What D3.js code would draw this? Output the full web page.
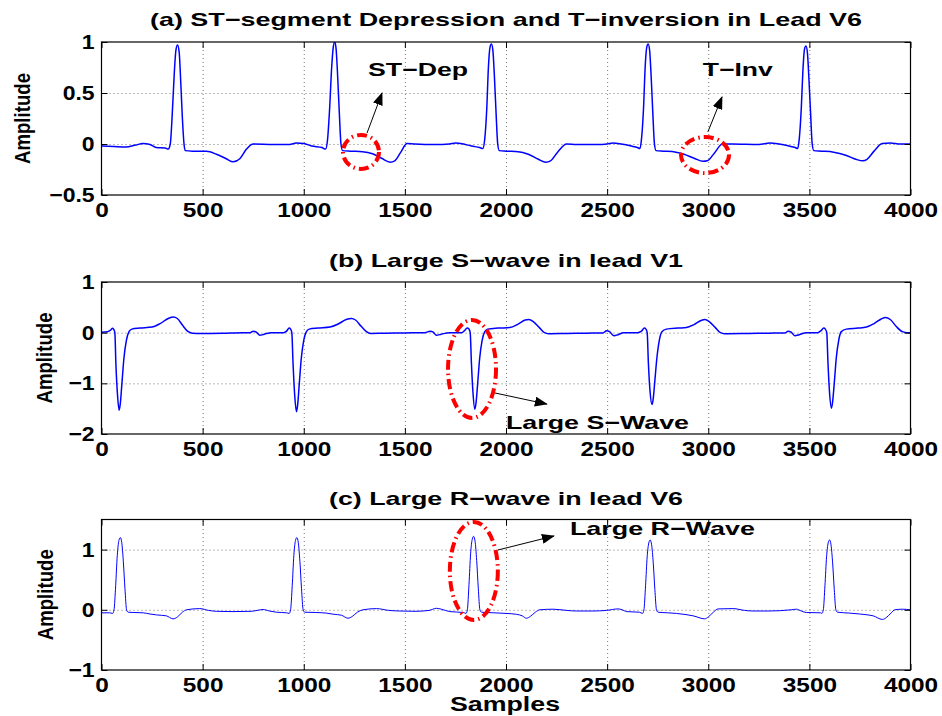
<!DOCTYPE html>
<html>
<head>
<meta charset="utf-8">
<script src="https://cdn.jsdelivr.net/npm/d3@7"></script>
<style>
  body { margin: 0; background: #fff; }
  text { font-family: "Liberation Sans", Arial, sans-serif; font-weight: bold; }
</style>
</head>
<body>
<div id="output"></div>
<script>
// x ticks shared by the three panels
var sampleTicks = [0, 500, 1000, 1500, 2000, 2500, 3000, 3500, 4000];

// (a) lead V6 with ST depression / T inversion: [sample, amplitude]
var stDepV6 = [
  [0,-0.02],[60,-0.025],[120,-0.03],[170,-0.01],[205,0.005],[240,-0.005],[270,-0.035],[315,-0.04],[330,-0.05],
  [340,0.0],[350,0.3],[360,0.7],[368,0.92],[376,0.97],[384,0.9],[392,0.6],[400,0.25],[408,0.0],[414,-0.065],
  [450,-0.07],[519,-0.072],[568,-0.1],[617,-0.145],[651,-0.175],[684,-0.145],[717,-0.05],[750,0.0],
  [850,-0.005],[930,-0.005],[963,0.01],[1000,0.005],[1040,-0.02],[1090,-0.035],[1108,-0.05],
  [1118,0.05],[1128,0.35],[1138,0.75],[1146,0.95],[1153,1.0],[1160,0.93],[1168,0.65],[1176,0.3],[1184,0.0],[1192,-0.065],
  [1230,-0.07],[1290,-0.075],[1340,-0.095],[1385,-0.14],[1428,-0.178],[1450,-0.165],[1480,-0.08],[1510,0.005],
  [1550,0.0],[1650,-0.005],[1720,0.0],[1750,0.01],[1790,0.0],[1830,-0.02],[1870,-0.035],[1885,-0.045],
  [1895,0.05],[1905,0.35],[1913,0.75],[1921,0.95],[1928,0.98],[1935,0.92],[1943,0.65],[1951,0.3],[1959,0.0],[1967,-0.065],
  [2000,-0.07],[2060,-0.075],[2110,-0.1],[2160,-0.15],[2197,-0.178],[2220,-0.165],[2255,-0.08],[2300,0.0],
  [2350,-0.005],[2450,-0.005],[2500,0.0],[2528,0.01],[2570,0.0],[2620,-0.02],[2650,-0.035],[2662,-0.045],
  [2670,0.05],[2680,0.35],[2688,0.75],[2696,0.95],[2703,0.98],[2710,0.92],[2718,0.65],[2726,0.3],[2734,0.0],[2742,-0.065],
  [2780,-0.07],[2840,-0.08],[2880,-0.1],[2930,-0.14],[2975,-0.17],[2995,-0.165],[3030,-0.09],[3070,0.0],
  [3120,0.0],[3250,-0.005],[3305,0.01],[3350,0.0],[3400,-0.02],[3430,-0.035],[3442,-0.045],
  [3450,0.05],[3460,0.35],[3468,0.72],[3476,0.93],[3483,0.96],[3490,0.9],[3498,0.63],[3506,0.3],[3514,0.0],[3522,-0.065],
  [3560,-0.07],[3620,-0.08],[3680,-0.11],[3730,-0.15],[3765,-0.165],[3785,-0.15],[3820,-0.07],[3860,0.005],
  [3900,0.01],[3950,0.0],[4000,0.0]
];

// (b) lead V1 with large S wave
var sWaveV1 = [
  [0,0.01],[30,0.02],[45,0.05],[55,0.085],[61,0.06],[66,0.0],[71,-0.6],[79,-1.22],[87,-1.53],[93,-1.4],[101,-1.0],
  [111,-0.5],[123,-0.15],[136,0.02],[150,0.07],[190,0.09],[250,0.11],[290,0.18],[330,0.28],[355,0.31],[375,0.28],
  [400,0.15],[425,0.03],[450,-0.01],[490,-0.015],[600,-0.01],[700,0.0],[735,0.0],[750,0.03],[765,0.01],[783,-0.05],
  [805,-0.03],[840,0.0],[900,0.0],[915,0.03],[928,0.09],[935,0.07],[941,0.0],[947,-0.6],[955,-1.22],[964,-1.56],
  [970,-1.42],[978,-1.0],[988,-0.5],[1000,-0.15],[1013,0.02],[1027,0.07],[1070,0.09],[1130,0.11],[1170,0.17],
  [1210,0.26],[1236,0.28],[1256,0.25],[1285,0.12],[1310,0.02],[1330,-0.015],[1400,-0.01],[1500,-0.005],[1600,0.0],
  [1625,0.03],[1640,0.01],[1656,-0.05],[1680,-0.03],[1720,0.0],[1780,0.0],[1795,0.04],[1808,0.09],[1817,0.07],
  [1823,0.0],[1829,-0.6],[1837,-1.2],[1846,-1.51],[1852,-1.38],[1860,-1.0],[1870,-0.5],[1882,-0.15],[1895,0.02],
  [1909,0.07],[1960,0.09],[2019,0.1],[2060,0.17],[2095,0.25],[2112,0.26],[2135,0.22],[2165,0.1],[2190,0.0],
  [2210,-0.02],[2300,-0.015],[2400,-0.01],[2480,-0.005],[2497,0.04],[2512,0.02],[2533,-0.06],[2555,-0.04],
  [2580,0.0],[2650,0.0],[2670,0.03],[2684,0.09],[2692,0.07],[2698,0.0],[2704,-0.6],[2712,-1.15],[2722,-1.42],
  [2728,-1.3],[2736,-0.95],[2746,-0.5],[2758,-0.15],[2771,0.02],[2793,0.07],[2850,0.09],[2892,0.1],[2930,0.16],
  [2965,0.24],[2983,0.26],[3005,0.22],[3035,0.1],[3060,0.0],[3080,-0.02],[3200,-0.015],[3300,-0.01],[3380,-0.005],
  [3395,0.03],[3410,0.01],[3428,-0.06],[3450,-0.04],[3485,0.0],[3540,0.0],[3558,0.04],[3571,0.09],[3579,0.07],
  [3586,0.0],[3592,-0.6],[3600,-1.2],[3609,-1.49],[3615,-1.36],[3623,-1.0],[3633,-0.5],[3645,-0.15],[3658,0.02],
  [3683,0.07],[3740,0.09],[3782,0.11],[3820,0.18],[3855,0.27],[3877,0.3],[3900,0.26],[3930,0.12],[3960,0.02],
  [3985,0.0],[4000,0.0]
];

// (c) lead V6 with large R wave
var rWaveV6 = [
  [0,-0.05],[40,-0.05],[55,-0.06],[62,0.0],[70,0.4],[78,0.9],[86,1.15],[93,1.2],[100,1.12],[108,0.8],[116,0.35],
  [124,0.0],[132,-0.04],[160,-0.045],[206,-0.05],[240,-0.07],[272,-0.085],[320,-0.1],[354,-0.15],[375,-0.12],
  [400,-0.04],[420,0.0],[486,0.02],[530,-0.01],[568,-0.025],[650,-0.03],[740,-0.025],[770,-0.01],[799,0.005],
  [830,-0.02],[865,-0.04],[915,-0.05],[928,-0.06],[935,0.0],[943,0.4],[951,0.9],[959,1.15],[966,1.2],[973,1.12],
  [981,0.8],[989,0.35],[997,0.0],[1005,-0.04],[1060,-0.045],[1112,-0.055],[1150,-0.075],[1186,-0.09],[1219,-0.14],
  [1240,-0.11],[1265,-0.04],[1293,0.0],[1360,0.02],[1420,-0.01],[1475,-0.02],[1550,-0.025],[1620,-0.01],
  [1656,0.025],[1680,0.01],[1722,-0.03],[1790,-0.045],[1802,-0.06],[1809,0.0],[1817,0.42],[1825,0.93],[1833,1.17],
  [1840,1.22],[1847,1.14],[1855,0.82],[1863,0.36],[1871,0.0],[1879,-0.04],[1940,-0.05],[2000,-0.06],[2052,-0.075],
  [2080,-0.1],[2101,-0.14],[2120,-0.11],[2145,-0.04],[2167,0.0],[2233,0.01],[2300,-0.01],[2348,-0.02],[2430,-0.02],
  [2497,-0.01],[2554,0.015],[2575,0.0],[2596,-0.03],[2660,-0.04],[2675,-0.06],[2682,0.0],[2690,0.4],[2698,0.88],
  [2706,1.11],[2713,1.16],[2720,1.08],[2728,0.78],[2736,0.34],[2744,0.0],[2752,-0.04],[2800,-0.05],[2843,-0.06],
  [2890,-0.08],[2925,-0.1],[2983,-0.15],[3000,-0.12],[3025,-0.04],[3049,0.015],[3123,0.02],[3180,-0.01],
  [3222,-0.02],[3300,-0.02],[3354,-0.015],[3410,0.0],[3436,0.01],[3460,-0.02],[3485,-0.045],[3555,-0.05],
  [3562,-0.06],[3569,0.0],[3577,0.4],[3585,0.88],[3593,1.11],[3600,1.16],[3607,1.08],[3615,0.78],[3623,0.34],
  [3631,0.0],[3639,-0.04],[3700,-0.055],[3749,-0.07],[3790,-0.085],[3815,-0.1],[3861,-0.16],[3880,-0.13],
  [3905,-0.05],[3922,0.0],[3960,0.01],[4000,0.0]
];

var titles = [
  '(a) ST\u2212segment Depression and T\u2212inversion in Lead V6',
  '(b) Large S\u2212wave in lead V1',
  '(c) Large R\u2212wave in lead V6'
];

var width = 942;
var height = 716;
var left = 101.5;
var right = 910.5;

var svg = d3.select('#output')
  .append('svg')
  .attr('width', width)
  .attr('height', height);

var defs = svg.append('defs');
defs.append('marker')
  .attr('id', 'arrow')
  .attr('markerUnits', 'userSpaceOnUse')
  .attr('markerWidth', 14).attr('markerHeight', 10)
  .attr('refX', 12).attr('refY', 5)
  .attr('orient', 'auto')
  .append('path')
  .attr('d', 'M0,0 L13,5 L0,10 Z')
  .attr('fill', '#000');

var xScale = d3.scaleLinear().domain([0, 4000]).range([left, right]);

var panels = [
  { data: stDepV6, top: 42, bottom: 195, domain: [-0.5, 1], ticks: [-0.5, 0, 0.5, 1],
    title: titles[0], titleY: 26, titleLen: 712, labelX: 30, lw: 1.5 },
  { data: sWaveV1, top: 282, bottom: 434, domain: [-2, 1], ticks: [-2, -1, 0, 1],
    title: titles[1], titleY: 267, titleLen: 354, labelX: 52, lw: 1.5 },
  { data: rWaveV6, top: 519.5, bottom: 670, domain: [-1, 1.5], ticks: [-1, 0, 1],
    title: titles[2], titleY: 505, titleLen: 354, labelX: 53, lw: 1 }
];

panels.forEach(function(p, i) {
  var yScale = d3.scaleLinear().domain(p.domain).range([p.bottom, p.top]);
  p.y = yScale;
  var g = svg.append('g');
  var h = p.bottom - p.top;
  var w = right - left;

  // Grid
  g.append('g')
    .attr('transform', `translate(0, ${p.bottom})`)
    .call(d3.axisBottom(xScale).tickValues(sampleTicks.slice(1, -1)).tickSize(-h).tickFormat(''))
    .call(function(a) { a.select('.domain').remove(); })
    .selectAll('line')
    .attr('stroke', '#555').attr('stroke-width', 0.8).attr('stroke-dasharray', '1,3');
  g.append('g')
    .attr('transform', `translate(${left}, 0)`)
    .call(d3.axisLeft(yScale).tickValues(p.ticks.filter(function(t) { return t > p.domain[0] && t < p.domain[1]; })).tickSize(-w).tickFormat(''))
    .call(function(a) { a.select('.domain').remove(); })
    .selectAll('line')
    .attr('stroke', '#555').attr('stroke-width', 0.8).attr('stroke-dasharray', '1,3');

  // Signal
  var clipId = 'clip' + i;
  defs.append('clipPath').attr('id', clipId)
    .append('rect').attr('x', left).attr('y', p.top).attr('width', w).attr('height', h);

  var line = d3.line()
    .x(function(d) { return xScale(d[0]); })
    .y(function(d) { return yScale(d[1]); })
    .curve(d3.curveMonotoneX);

  g.append('path')
    .datum(p.data)
    .attr('clip-path', `url(#${clipId})`)
    .attr('fill', 'none')
    .attr('stroke', '#0000ff')
    .attr('stroke-width', p.lw)
    .attr('stroke-linejoin', 'round')
    .attr('d', line);

  // Axes (ticks inside, like matlab)
  var xAx = g.append('g')
    .attr('transform', `translate(0, ${p.bottom})`)
    .call(d3.axisBottom(xScale).tickValues(sampleTicks).tickSize(-6).tickPadding(8).tickFormat(d3.format('')));
  var xTop = g.append('g')
    .attr('transform', `translate(0, ${p.top})`)
    .call(d3.axisTop(xScale).tickValues(sampleTicks).tickSize(-6).tickFormat(''));
  var yAx = g.append('g')
    .attr('transform', `translate(${left}, 0)`)
    .call(d3.axisLeft(yScale).tickValues(p.ticks).tickSize(-6).tickPadding(6).tickFormat(d3.format('')));
  var yRight = g.append('g')
    .attr('transform', `translate(${right}, 0)`)
    .call(d3.axisRight(yScale).tickValues(p.ticks).tickSize(-6).tickFormat(''));

  [xAx, xTop, yAx, yRight].forEach(function(a) {
    a.select('.domain').remove();
    a.selectAll('line').attr('stroke', '#000');
  });
  xAx.selectAll('text')
    .attr('font-size', 20).attr('fill', '#000')
    .attr('transform', 'scale(1.22,1)');
  yAx.selectAll('text')
    .attr('font-size', 20).attr('fill', '#000')
    .attr('transform', 'scale(1.15,1)');

  g.append('rect')
    .attr('x', left).attr('y', p.top).attr('width', w).attr('height', h)
    .attr('fill', 'none').attr('stroke', '#000').attr('stroke-width', 1.2);

  // Title and y label
  g.append('text')
    .attr('x', (left + right) / 2).attr('y', p.titleY)
    .attr('text-anchor', 'middle')
    .attr('font-size', 19)
    .attr('textLength', p.titleLen).attr('lengthAdjust', 'spacingAndGlyphs')
    .text(p.title);

  g.append('text')
    .attr('transform', `translate(${p.labelX}, ${(p.top + p.bottom) / 2}) rotate(-90)`)
    .attr('text-anchor', 'middle')
    .attr('font-size', 22)
    .attr('textLength', 91).attr('lengthAdjust', 'spacingAndGlyphs')
    .text('Amplitude');
});

svg.append('text')
  .attr('x', 505).attr('y', 711)
  .attr('text-anchor', 'middle')
  .attr('font-size', 20)
  .attr('textLength', 110).attr('lengthAdjust', 'spacingAndGlyphs')
  .text('Samples');

// Annotations (positions in data units of each panel)
var notes = [
  { panel: 0, cx: 1283, cy: -0.078, rx: 18, ry: 17, from: [1313, 0.108], to: [1387, 0.5], label: 'ST\u2212Dep', lx: 1318, ly: 0.667, len: 100 },
  { panel: 0, cx: 2984, cy: -0.108, rx: 24, ry: 18, from: [2998, 0.118], to: [3068, 0.461], label: 'T\u2212Inv', lx: 2973, ly: 0.667, len: 70 },
  { panel: 1, cx: 1832, cy: -0.716, rx: 24, ry: 49, from: [1945, -1.19], to: [2202, -1.41], label: 'Large S\u2212Wave', lx: 2000, ly: -1.9, len: 183 },
  { panel: 2, cx: 1841, cy: 0.645, rx: 24, ry: 49, from: [1960, 0.993], to: [2237, 1.226], label: 'Large R\u2212Wave', lx: 2316, ly: 1.243, len: 185 }
];

notes.forEach(function(n) {
  var yScale = panels[n.panel].y;
  svg.append('ellipse')
    .attr('cx', xScale(n.cx)).attr('cy', yScale(n.cy))
    .attr('rx', n.rx).attr('ry', n.ry)
    .attr('fill', 'none').attr('stroke', '#ff0000')
    .attr('stroke-width', 4)
    .attr('stroke-dasharray', '10,4,1.5,4');
  svg.append('line')
    .attr('x1', xScale(n.from[0])).attr('y1', yScale(n.from[1]))
    .attr('x2', xScale(n.to[0])).attr('y2', yScale(n.to[1]))
    .attr('stroke', '#000').attr('stroke-width', 1)
    .attr('marker-end', 'url(#arrow)');
  svg.append('text')
    .attr('x', xScale(n.lx)).attr('y', yScale(n.ly))
    .attr('font-size', 19)
    .attr('textLength', n.len).attr('lengthAdjust', 'spacingAndGlyphs')
    .text(n.label);
});
</script>
</body>
</html>
